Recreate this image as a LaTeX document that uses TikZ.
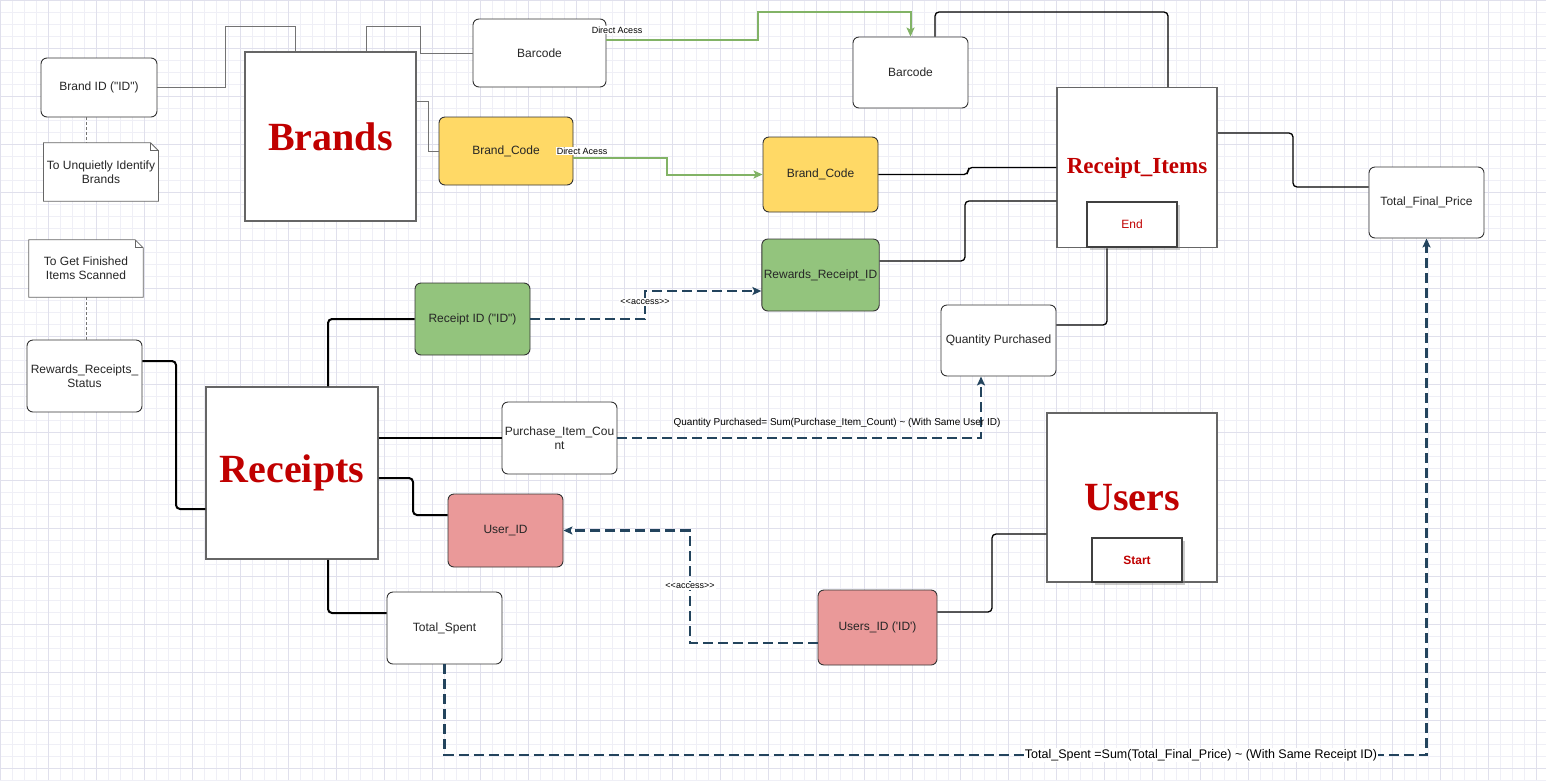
\documentclass[tikz,border=0pt]{standalone}
\usepackage{fontspec}
\setmainfont{Liberation Sans}
\newfontfamily\fieldfont{Liberation Sans}
\newfontfamily\titlefont{Liberation Serif}
\usepackage{tikz}
\usetikzlibrary{arrows.meta,shadows,backgrounds}

\definecolor{gridminor}{HTML}{EFEFF6}
\definecolor{gridmajor}{HTML}{E0E0EC}
\definecolor{keyyellow}{HTML}{FFD966}
\definecolor{keygreen}{HTML}{93C47D}
\definecolor{keypink}{HTML}{EA9999}
\definecolor{titlered}{HTML}{C00000}
\definecolor{accessblue}{HTML}{23445D}
\definecolor{directgreen}{HTML}{82B366}

\tikzstyle{field}=[draw=black!80,line width=.9pt,rounded corners=6pt,fill=white,align=center,text=black!85,font=\fieldfont\fontsize{12}{14}\selectfont,inner sep=2pt]
\tikzstyle{entity}=[draw=black!60,line width=1.5pt,fill=white,text=titlered,font=\titlefont\bfseries\fontsize{40}{44}\selectfont]
\tikzstyle{tag}=[draw=black!75,line width=1.5pt,fill=white,text=titlered,font=\fieldfont\fontsize{12}{14}\selectfont,drop shadow={opacity=.4,shadow xshift=3pt,shadow yshift=-3pt}]
\tikzstyle{note}=[align=center,text=black!85,font=\fieldfont\fontsize{12}{14}\selectfont]
\tikzstyle{notepaper}=[draw=black!60,line width=.8pt,fill=white]
\tikzstyle{plain}=[draw=black!55,line width=.8pt]
\tikzstyle{line}=[black,line width=1.3pt,rounded corners=4pt]
\tikzstyle{access}=[->,>={Stealth[length=9pt,width=8pt,inset=2pt]},accessblue,line width=2.2pt,dash pattern=on 10pt off 5pt]
\tikzstyle{direct}=[->,>={Stealth[length=9pt,width=8pt,inset=2pt]},directgreen,line width=2pt]
\tikzstyle{small}=[fill=white,inner sep=1pt,text=black,font=\fieldfont\fontsize{9}{10}\selectfont]

\begin{document}
\begin{tikzpicture}[x=1pt,y=-1pt]

	\useasboundingbox (0,0) rectangle (1546,780);

	%grid
	\begin{pgfonlayer}{background}
	\fill[white] (0,0) rectangle (1546,780);
	\draw[gridminor,line width=.5pt,step=12pt] (0,0) grid (1546,780);
	\draw[gridmajor,line width=.6pt,step=48pt] (0,0) grid (1546,780);
	\end{pgfonlayer}

	%brands
	\node[entity,minimum width=171pt,minimum height=169pt] (brands) at (330.5,136.5) {Brands};
	\node[field,minimum width=116pt,minimum height=59pt] (brandid) at (99,87.5) {Brand ID ("ID")};
	\node[note,minimum width=114pt,minimum height=58pt] (noteid) at (101,172) {To Unquietly Identify\\Brands};
	\node[field,minimum width=133pt,minimum height=68pt] (barcodeb) at (539.5,53) {Barcode};
	\node[field,fill=keyyellow,minimum width=134pt,minimum height=68pt] (brandcodeb) at (506,151) {Brand\_Code};

	%receipt items
	\node[entity,font=\titlefont\bfseries\fontsize{23}{26}\selectfont,minimum width=160pt,minimum height=160pt] (items) at (1137,167.5) {Receipt\_Items};
	\node[tag,minimum width=90pt,minimum height=45pt] (endtag) at (1132,224.5) {End};
	\node[field,minimum width=115pt,minimum height=71pt] (barcodeitem) at (910.5,72.5) {Barcode};
	\node[field,fill=keyyellow,minimum width=115pt,minimum height=75pt] (brandcodeitem) at (820.5,174.5) {Brand\_Code};
	\node[field,fill=keygreen,minimum width=115pt,minimum height=72pt] (rewardsid) at (820.5,275) {Rewards\_Receipt\_ID};
	\node[field,minimum width=115pt,minimum height=71pt] (finalprice) at (1426.5,202.5) {Total\_Final\_Price};
	\node[field,minimum width=115pt,minimum height=71pt] (qty) at (998.5,340.5) {Quantity Purchased};

	%receipts
	\node[entity,minimum width=172pt,minimum height=172pt] (receipts) at (292,473) {Receipts};
	\node[field,fill=keygreen,minimum width=115pt,minimum height=72pt] (receiptid) at (472.5,319) {Receipt ID ("ID")};
	\node[note,minimum width=114pt,minimum height=57pt] (notestatus) at (86,268.5) {To Get Finished\\Items Scanned};
	\node[field,minimum width=115pt,minimum height=72pt] (status) at (84.5,376) {Rewards\_Receipts\_\\Status};
	\node[field,minimum width=115pt,minimum height=72pt] (itemcount) at (559.5,438) {Purchase\_Item\_Cou\\nt};
	\node[field,fill=keypink,minimum width=115pt,minimum height=73pt] (userid) at (505.5,530.5) {User\_ID};
	\node[field,minimum width=115pt,minimum height=72pt] (totalspent) at (444.5,628) {Total\_Spent};

	%users
	\node[entity,minimum width=170pt,minimum height=169pt] (users) at (1132,497.5) {Users};
	\node[tag,font=\fieldfont\bfseries\fontsize{12}{14}\selectfont,minimum width=90pt,minimum height=44pt] (starttag) at (1137,560) {Start};
	\node[field,fill=keypink,minimum width=119pt,minimum height=75pt] (usersid) at (877.5,627.5) {Users\_ID ('ID')};

	%notes
	\begin{pgfonlayer}{background}
	\foreach \n in {noteid,notestatus}{
		\draw[notepaper] (\n.north west) -- ([xshift=-8pt]\n.north east) -- ([yshift=-8pt]\n.north east) -- (\n.south east) -- (\n.south west) -- cycle;
		\draw[notepaper,fill=none] ([xshift=-8pt]\n.north east) -- ([xshift=-8pt,yshift=-8pt]\n.north east) -- ([yshift=-8pt]\n.north east);
	}
	\end{pgfonlayer}
	\draw[plain,dash pattern=on 3pt off 2pt] ([xshift=-13pt]brandid.south) -- ([xshift=-13pt]brandid.south |- noteid.north);
	\draw[plain,dash pattern=on 3pt off 2pt] (notestatus.south) -- (notestatus.south |- status.north);

	%brand links
	\draw[plain] (brandid.east) -| (225,26) -| ([xshift=-35.5pt]brands.north);
	\draw[plain] ([xshift=35.5pt]brands.north) |- (420,26) |- (barcodeb.west);
	\draw[plain] ([yshift=35.5pt]brands.east) -| (428,151) -- (brandcodeb.west);

	%direct access
	\draw[direct] ([yshift=13pt]barcodeb.east) -| (758,12) -| (barcodeitem.north);
	\draw[direct] ([yshift=-7pt]brandcodeb.east) -| (667,174.5) -- (brandcodeitem.west);
	\node[small] (directbar) at (617,30) {Direct Acess};
	\node[small] (directcode) at (582,151) {Direct Acess};

	%receipt item links
	\draw[line] ([xshift=24.5pt]barcodeitem.north) |- (1168,12) -- ([xshift=31pt]items.north);
	\draw[line] (brandcodeitem.east) -- (968,174.5) -- (968,167.5) -- (items.west);
	\draw[line] ([yshift=14pt]rewardsid.east) -| (965,201) -- ([yshift=-33.5pt]items.west);
	\draw[line] ([yshift=34.5pt]items.east) -| (1293,187) -- ([yshift=15.5pt]finalprice.west);
	\draw[line] ([yshift=15.5pt]qty.east) -| ([xshift=-30pt]items.south);

	%receipt links
	\draw[line,line width=2pt] ([yshift=15pt]status.east) -| (176,509) -- ([yshift=-36pt]receipts.west);
	\draw[line,line width=2pt] ([xshift=36pt]receipts.north) |- (receiptid.west);
	\draw[line,line width=2pt] (receipts.east |- itemcount.west) -- (itemcount.west);
	\draw[line,line width=2pt] ([yshift=-5pt]receipts.east) -| (413,515) -- ([yshift=15.5pt]userid.west);
	\draw[line,line width=2pt] ([xshift=36pt]receipts.south) |- ([yshift=15pt]totalspent.west);

	%user links
	\draw[line] ([yshift=15.5pt]usersid.east) -| (992,534) -- ([yshift=-36.5pt]users.west);

	%access
	\draw[access] (receiptid.east) -| (645,291) -- ([yshift=-16pt]rewardsid.west);
	\draw[access] (itemcount.east) -| ([xshift=-17.5pt]qty.south);
	\draw[access] ([yshift=-15.5pt]usersid.west) -| (690,530.5) -- (userid.east);
	\draw[access] (totalspent.south) |- (1426.5,755) -- (finalprice.south);
	\node[small] (accessreceipt) at (645,302) {<{}<access>{}>};
	\node[small] (accessuser) at (690,586) {<{}<access>{}>};
	\node[small,fill=none,font=\fieldfont\fontsize{10}{12}\selectfont] (qtysum) at (837,423) {Quantity Purchased= Sum(Purchase\_Item\_Count) \textasciitilde{} (With Same User ID)};
	\node[small,font=\fieldfont\fontsize{12.5}{14}\selectfont] (spentsum) at (1201,755) {Total\_Spent =Sum(Total\_Final\_Price) \textasciitilde{} (With Same Receipt ID)};

\end{tikzpicture}
\end{document}
